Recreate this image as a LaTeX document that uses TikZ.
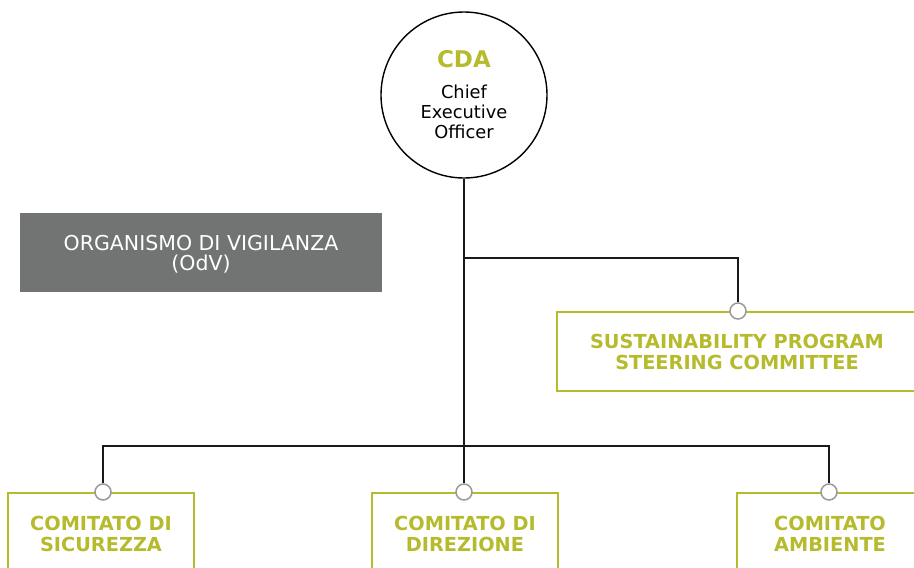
\documentclass[tikz,border=0pt]{standalone}
\usepackage{fontspec}
\setmainfont{DejaVu Sans}
\definecolor{olive}{HTML}{B5BB2C}
\definecolor{slate}{HTML}{717473}
\definecolor{ring}{HTML}{9A9A9A}
\newcommand{\bigcda}{\bfseries\fontsize{23}{23}\selectfont\color{olive}}
\begin{document}
\begin{tikzpicture}[x=1pt,y=-1pt,
  conn/.style={draw=black!90, line width=1.4pt},
  unit/.style={draw=olive, line width=2pt, fill=white, rectangle, inner sep=0pt},
  unittext/.style={text=olive, font=\bfseries\fontsize{19.3}{21}\selectfont, align=center, inner sep=0pt},
  dot/.style={circle, draw=ring, fill=white, line width=1.5pt, minimum size=16pt, inner sep=0pt},
]
\useasboundingbox (0,0) rectangle (914,568);
\clip (0,0) rectangle (914,568);

% chief executive
\node[circle, draw=black, line width=1.4pt, minimum size=166pt, inner sep=0pt, align=center,
      font=\fontsize{17.8}{20}\selectfont]
  (ceo) at (464,95)
  {{\bigcda CDA}\\[11pt]
   Chief\\Executive\\Officer};

% supervisory body
\node[rectangle, fill=slate, minimum width=362pt, minimum height=79pt, inner sep=0pt]
  (odv) at (201,252.5) {};
\node[text=white, align=center, inner sep=0pt, font=\fontsize{20.5}{20}\selectfont]
  (odvtext) at ([yshift=-1.5pt]odv.center) {ORGANISMO DI VIGILANZA\\(OdV)};

% committees
\node[unit, minimum width=360pt, minimum height=79pt, anchor=north] (sp) at (737,311) {};
\node[unittext] (sptext) at ([yshift=-41pt]sp.north)
  {SUSTAINABILITY PROGRAM\\STEERING COMMITTEE};

\node[unit, minimum width=186pt, minimum height=110pt, anchor=north] (c1) at (101,492) {};
\node[unit, minimum width=186pt, minimum height=110pt, anchor=north] (c2) at (465,492) {};
\node[unit, minimum width=186pt, minimum height=110pt, anchor=north] (c3) at (830,492) {};
\node[unittext] (c1text) at ([yshift=-42pt]c1.north) {COMITATO DI\\SICUREZZA};
\node[unittext] (c2text) at ([yshift=-42pt]c2.north) {COMITATO DI\\DIREZIONE};
\node[unittext] (c3text) at ([yshift=-42pt]c3.north) {COMITATO\\AMBIENTE};

% junctions
\coordinate (jt) at (464,258);
\coordinate (bus) at (464,446);

% attachment rings
\node[dot] (spdot) at (738,311) {};
\node[dot] (c1dot) at (103,492) {};
\node[dot] (c2dot) at (464,492) {};
\node[dot] (c3dot) at (829,492) {};

% reporting lines
\draw[conn] (ceo.south) -- (c2dot.north);
\draw[conn] (jt) -| (spdot.north);
\draw[conn] (c1dot.north) |- (bus) -| (c3dot.north);
\end{tikzpicture}
\end{document}
